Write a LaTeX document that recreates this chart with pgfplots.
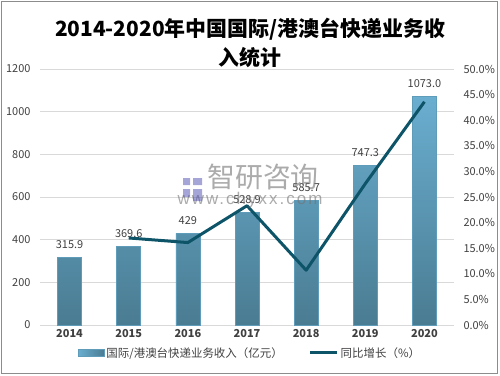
\documentclass[border=0pt]{standalone}
\usepackage{pgfplots}
\pgfplotsset{compat=1.18}
\usepackage{fontspec}
\setmainfont{Noto Sans CJK SC}
\newfontfamily\lat[LetterSpace=12]{Liberation Sans}
\definecolor{barT}{HTML}{6AAED0}
\definecolor{barB}{HTML}{4A7C92}
\definecolor{barE}{HTML}{5E9CBA}
\definecolor{lineC}{HTML}{0E5468}
\definecolor{txt}{HTML}{404040}
\definecolor{gridc}{HTML}{D9D9D9}
\begin{document}
\begin{tikzpicture}[x=1bp,y=1bp]
\path (0,0) rectangle (500,375);
\draw[color=black!45, line width=1.2bp] (1.5,1.5) rectangle (497.5,373.5);
\node[font=\fontsize{21}{29}\selectfont\bfseries, align=center, text=black] at (250,332) {2014-2020年中国国际/港澳台快递业务收\\入统计};
\begin{axis}[at={(40bp,50bp)}, anchor=south west, scale only axis,
  width=414bp, height=256bp,
  xmin=-0.5, xmax=6.5, ymin=0, ymax=1200, ytick={0,200,...,1200},
  xtick={0,...,6}, xticklabels={2014,2015,2016,2017,2018,2019,2020},
  /pgf/number format/assume math mode=true,
  /pgf/number format/1000 sep={},
  axis x line*=bottom, axis y line*=left,
  y axis line style={draw=none}, x axis line style={draw=gridc, line width=1bp},
  major tick length=0pt,
  ymajorgrids, grid style={draw=gridc, line width=0.8bp},
  yticklabel style={font=\fontsize{11}{12}\selectfont, text=txt, xshift=-6bp},
  xticklabel style={font=\fontsize{11}{12}\selectfont\bfseries, text=txt, yshift=-1bp},
  ybar, bar width=24bp,
  nodes near coords={\pgfplotspointmeta}, point meta=explicit symbolic,
  nodes near coords style={font=\fontsize{11}{12}\selectfont, text=txt, yshift=5bp},
]
\addplot[draw=barE, line width=0.6bp, shade, top color=barT, bottom color=barB] coordinates {
 (0,315.9) [315.9]
 (1,369.6) [369.6]
 (2,429) [429]
 (3,528.9) [528.9]
 (4,585.7) [585.7]
 (5,747.3) [747.3]
 (6,1073.0) [1073.0]
};
\end{axis}
\begin{axis}[at={(40bp,50bp)}, anchor=south west, scale only axis,
  width=414bp, height=256bp,
  xmin=-0.5, xmax=6.5, ymin=0, ymax=50, ytick={0,5,...,50},
  /pgf/number format/assume math mode=true,
  axis x line=none, axis y line*=right,
  y axis line style={draw=none},
  major tick length=0pt,
  yticklabel={\pgfmathprintnumber[fixed,fixed zerofill,precision=1]{\tick}\%},
  yticklabel style={font=\fontsize{11}{12}\selectfont, text=txt, xshift=6bp},
  legend columns=2,
  legend style={at={(0.507,-0.109)}, anchor=center, draw=none, fill=none,
    font=\fontsize{11.5}{13}\selectfont, text=txt,
    /tikz/every even column/.append style={column sep=24bp},
    inner sep=0pt},
]
\addlegendimage{legend image code/.code={\draw[draw=barE, line width=0.6bp, left color=barT, right color=barB] (0bp,-3.5bp) rectangle (26bp,3.5bp);}}
\addlegendentry{国际/港澳台快递业务收入（亿元）}
\addplot[draw=lineC, line width=3bp, line join=round, no marks,
  legend image code/.code={\draw[draw=lineC, line width=3bp] (0bp,0bp) -- (27bp,0bp);}] coordinates {
 (1,17.0) (2,16.1) (3,23.3) (4,10.7) (5,27.6) (6,43.6)
};
\addlegendentry{同比增长（\%）}
\end{axis}
\node[text=black!55, opacity=0.6, font=\fontsize{28}{30}\selectfont] at (263,198) {智研咨询};
\node[text=black!55, opacity=0.6, font=\lat\fontsize{17}{20}\selectfont] at (250,175) {www.chyxx.com};
\fill[blue!40!gray, opacity=0.5] (183,190) rectangle (190,197) (193,190) rectangle (202,197) (183,178) rectangle (190,186) (193,174) rectangle (202,186);
\end{tikzpicture}
\end{document}
